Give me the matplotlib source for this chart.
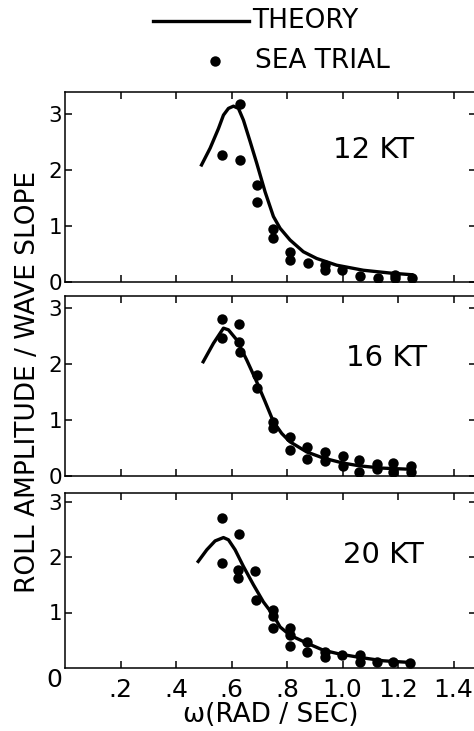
import matplotlib
matplotlib.use("Agg")
import matplotlib.pyplot as plt

# theory curves (omega, roll amplitude / wave slope)
th12_w = [0.492, 0.523, 0.553, 0.571, 0.589, 0.607, 0.625, 0.643, 0.667, 0.691, 0.721, 0.751,
          0.775, 0.811, 0.859, 0.907, 0.979, 1.075, 1.171, 1.249]
th12_r = [2.09, 2.39, 2.74, 2.98, 3.10, 3.14, 3.10, 2.89, 2.51, 2.12, 1.61, 1.17,
          0.96, 0.75, 0.54, 0.42, 0.30, 0.21, 0.16, 0.13]

th16_w = [0.498, 0.535, 0.571, 0.589, 0.619, 0.655, 0.691, 0.721, 0.751, 0.781, 0.811, 0.871,
          0.931, 1.003, 1.063, 1.147, 1.246]
th16_r = [2.04, 2.37, 2.64, 2.61, 2.43, 2.07, 1.68, 1.33, 0.97, 0.76, 0.61, 0.43,
          0.32, 0.23, 0.18, 0.14, 0.12]

th20_w = [0.480, 0.511, 0.541, 0.571, 0.589, 0.613, 0.643, 0.679, 0.715, 0.751, 0.775, 0.811,
          0.871, 0.931, 0.991, 1.063, 1.147, 1.243]
th20_r = [1.92, 2.13, 2.29, 2.35, 2.31, 2.13, 1.83, 1.50, 1.19, 0.95, 0.74, 0.59,
          0.45, 0.32, 0.25, 0.19, 0.13, 0.10]

# sea trial points
sea12_w = [0.565, 0.631, 0.631, 0.691, 0.691, 0.751, 0.751, 0.811, 0.811, 0.877, 0.937, 0.937,
           0.997, 1.063, 1.129, 1.189, 1.189, 1.249]
sea12_r = [2.26, 2.18, 3.18, 1.73, 1.43, 0.94, 0.78, 0.54, 0.39, 0.34, 0.30, 0.21,
           0.21, 0.10, 0.07, 0.13, 0.07, 0.07]

sea16_w = [0.565, 0.567, 0.628, 0.628, 0.631, 0.691, 0.691, 0.748, 0.748, 0.811, 0.811, 0.873, 0.873,
           0.937, 0.937, 1.000, 1.000, 1.061, 1.061, 1.123, 1.123, 1.183, 1.183, 1.246, 1.246]
sea16_r = [2.80, 2.46, 2.71, 2.40, 2.22, 1.80, 1.57, 0.97, 0.85, 0.70, 0.46, 0.52, 0.30,
           0.43, 0.26, 0.35, 0.17, 0.29, 0.08, 0.21, 0.12, 0.23, 0.08, 0.17, 0.08]

sea20_w = [0.565, 0.565, 0.628, 0.625, 0.625, 0.685, 0.688, 0.748, 0.748, 0.748, 0.811, 0.811, 0.811,
           0.873, 0.873, 0.937, 0.937, 0.997, 1.063, 1.063, 1.123, 1.183, 1.243]
sea20_r = [2.71, 1.89, 2.41, 1.77, 1.62, 1.74, 1.23, 1.05, 0.93, 0.72, 0.72, 0.60, 0.40,
           0.46, 0.29, 0.29, 0.20, 0.23, 0.23, 0.10, 0.10, 0.10, 0.09]

speeds = ["12 KT", "16 KT", "20 KT"]
xticks = [0.2, 0.4, 0.6, 0.8, 1.0, 1.2, 1.4]
xticklabels = [".2", ".4", ".6", ".8", "1.0", "1.2", "1.4"]

W, H = 474, 731
fig = plt.figure(figsize=(W / 100, H / 100), dpi=100)
plt.rcParams['font.family'] = ['DejaVu Sans']

# panel boxes in pixels: (top, bottom)
boxes = [(92, 282), (296, 476), (493, 668)]
left, right = 65, 476
ppu_x = 277.5
ppu_y = [56, 56, 55.5]

data = [(th12_w, th12_r, sea12_w, sea12_r),
        (th16_w, th16_r, sea16_w, sea16_r),
        (th20_w, th20_r, sea20_w, sea20_r)]
lbl_pos = [(0.75, 0.695), (0.783, 0.655), (0.775, 0.646)]

axes = []
for i, (top, bot) in enumerate(boxes):
    ax = fig.add_axes([left / W, 1 - bot / H, (right - left) / W, (bot - top) / H])
    tw, tr, sw, sr = data[i]
    ax.plot(tw, tr, color="black", lw=2.4, solid_joinstyle="round")
    ax.plot(sw, sr, "o", color="black", ms=7.5, mec="none")
    ax.set_xlim(0, (right - left) / ppu_x)
    ax.set_ylim(0, (bot - top) / ppu_y[i])
    ax.set_xticks(xticks)
    ax.set_yticks([1, 2, 3] if i == 2 else [0, 1, 2, 3])
    ax.tick_params(direction="in", top=True, right=True, length=5, width=1.1,
                   labelsize=15.5, pad=2, color="black")
    if i < 2:
        ax.set_xticklabels([])
    else:
        ax.set_xticklabels(xticklabels, fontsize=18)
        ax.tick_params(axis="x", pad=7)
    for s in ax.spines.values():
        s.set_linewidth(1.1)
    ax.text(lbl_pos[i][0], lbl_pos[i][1], speeds[i], transform=ax.transAxes,
            ha="center", va="center", fontsize=21)
    axes.append(ax)

# origin label shared by bottom panel
fig.text(54 / W, 1 - 680 / H, "0", ha="center", va="center", fontsize=18)

axes[2].set_xlabel("ω(RAD / SEC)", fontsize=19, labelpad=0)
fig.text(28 / W, 1 - 382 / H, "ROLL AMPLITUDE / WAVE SLOPE", rotation=90,
         ha="center", va="center", fontsize=19)

# legend drawn at top
fig.add_artist(plt.Line2D([153 / W, 249 / W], [1 - 21 / H, 1 - 21 / H], color="black", lw=2.4))
fig.text(252 / W, 1 - 21 / H, "THEORY", ha="left", va="center", fontsize=19)
fig.add_artist(plt.Line2D([215 / W], [1 - 61 / H], marker="o", color="black", ms=7.5, mec="none"))
fig.text(255 / W, 1 - 61 / H, "SEA TRIAL", ha="left", va="center", fontsize=19)

fig.savefig("out.png", dpi=100)
